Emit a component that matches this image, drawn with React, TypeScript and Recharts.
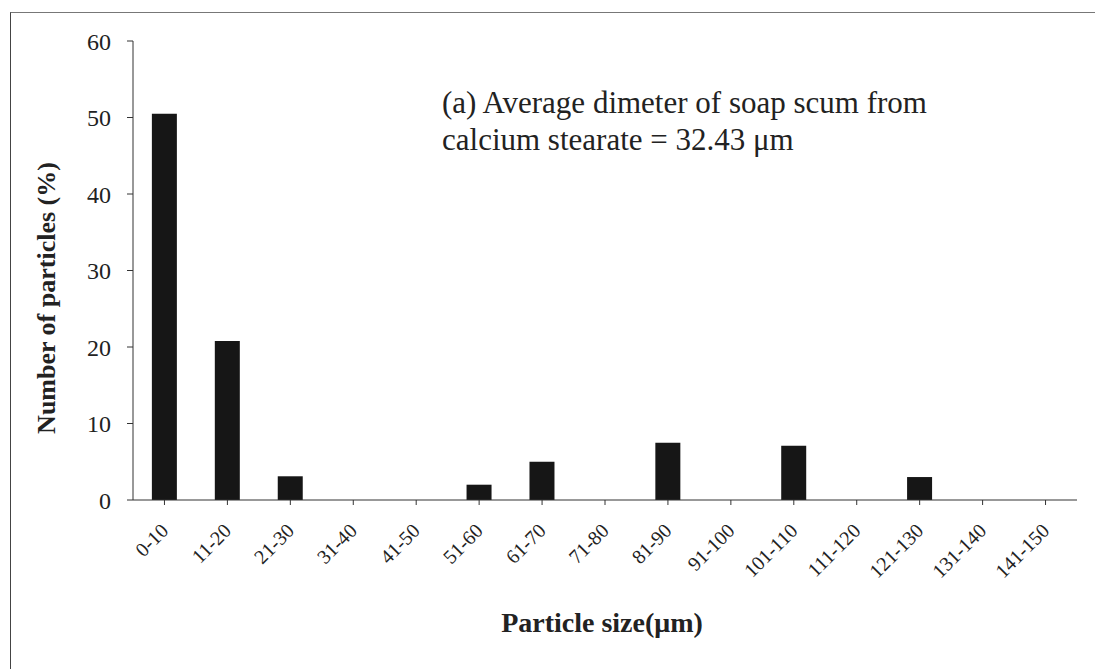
import { BarChart, Bar, XAxis, YAxis } from 'recharts';

const sizeRanges = [
    '0-10', '11-20', '21-30', '31-40', '41-50', '51-60', '61-70', '71-80',
    '81-90', '91-100', '101-110', '111-120', '121-130', '131-140', '141-150',
];
const particlePercent = [50.5, 20.8, 3.1, 0, 0, 2.0, 5.0, 0, 7.5, 0, 7.1, 0, 3.0, 0, 0];
const yTicks = [0, 10, 20, 30, 40, 50, 60];

const serif = '"Liberation Serif", "DejaVu Serif", serif';

const chartData = sizeRanges.map((range, i) => ({ range, value: particlePercent[i] }));

const RotatedTick = ({ x, y, payload }: any) => (
    <text
        x={x + 5}
        y={y + 25}
        transform={`rotate(-45 ${x + 5} ${y + 25})`}
        textAnchor="end"
        fontFamily={serif}
        fontSize={20}
        fill="#222"
    >
        {payload.value}
    </text>
);

export default function App() {
    return (
        <div style={{ position: 'absolute', left: 0, top: 0, width: 1095, height: 669, background: '#fff', overflow: 'hidden' }}>
            {/* scanned frame: left and top edges only */}
            <div
                style={{
                    position: 'absolute',
                    left: 10,
                    top: 12,
                    width: 1090,
                    height: 670,
                    borderLeft: '1.5px solid #444',
                    borderTop: '1px solid #777',
                }}
            />
            <BarChart
                width={1095}
                height={669}
                data={chartData}
                margin={{ top: 41, right: 18, left: 73, bottom: 69 }}
                barCategoryGap="30%"
                style={{ position: 'absolute', left: 0, top: 0 }}
            >
                <XAxis
                    dataKey="range"
                    interval={0}
                    height={100}
                    stroke="#333"
                    tickSize={5}
                    tick={<RotatedTick />}
                />
                <YAxis
                    domain={[0, 60]}
                    ticks={yTicks}
                    width={60}
                    stroke="#333"
                    tickSize={6}
                    tick={{ fontFamily: serif, fontSize: 24, fill: '#222' }}
                    tickMargin={16}
                />
                <Bar dataKey="value" fill="#161616" isAnimationActive={false} />
            </BarChart>
            <div
                style={{
                    position: 'absolute',
                    left: 47,
                    top: 298,
                    transform: 'translate(-50%, -50%) rotate(-90deg)',
                    whiteSpace: 'nowrap',
                    fontFamily: serif,
                    fontWeight: 'bold',
                    fontSize: 26,
                    lineHeight: 1,
                    color: '#222',
                }}
            >
                Number of particles (%)
            </div>
            <div
                style={{
                    position: 'absolute',
                    left: 602,
                    top: 609,
                    transform: 'translateX(-50%)',
                    whiteSpace: 'nowrap',
                    fontFamily: serif,
                    fontWeight: 'bold',
                    fontSize: 28,
                    lineHeight: 1,
                    color: '#222',
                }}
            >
                Particle size(μm)
            </div>
            <div
                style={{
                    position: 'absolute',
                    left: 442,
                    top: 84,
                    lineHeight: '37px',
                    whiteSpace: 'nowrap',
                    fontFamily: serif,
                    fontSize: 31,
                    color: '#222',
                }}
            >
                (a) Average dimeter of soap scum from
                <br />
                calcium stearate = 32.43 μm
            </div>
        </div>
    );
}
